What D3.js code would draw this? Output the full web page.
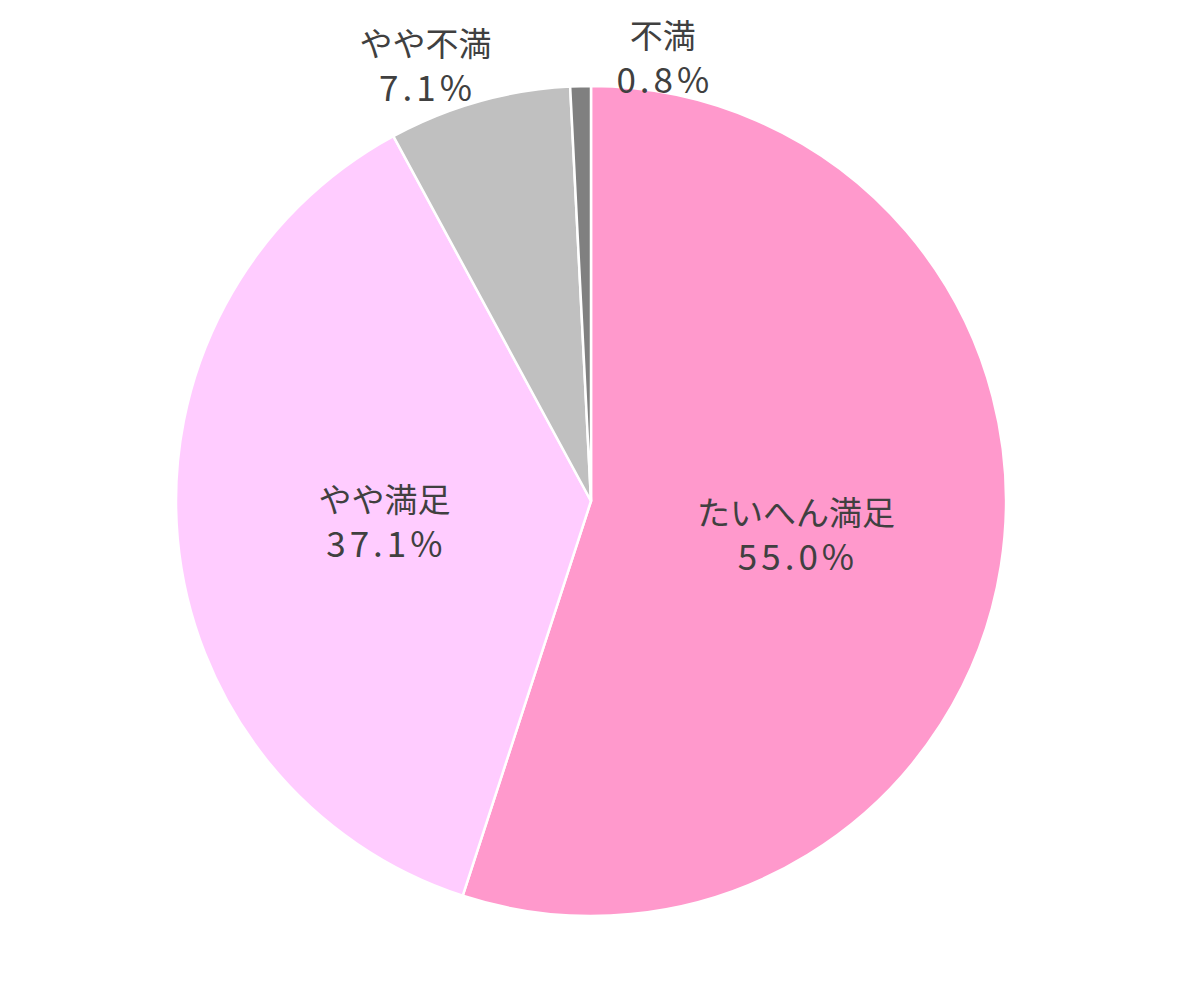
<!DOCTYPE html>
<html><head><meta charset="utf-8">
<script src="https://cdn.jsdelivr.net/npm/d3@7"></script>
<style>html,body{margin:0;padding:0;background:#fff;}svg{display:block;}</style>
</head><body>
<svg id="chart" width="1182" height="1005"></svg>
<script>
const categories = ["たいへん満足", "やや満足", "やや不満", "不満"];
const values = [55.0, 37.1, 7.1, 0.8];
const colors = ["#FF99CC", "#FFCCFF", "#C0C0C0", "#808080"];
// label placement: inside (centroid) or outside (angle offset in degrees, radial distance beyond rim)
const labelMode = ["inside", "inside", "outside", "outside"];
const labelAngleShift = [0, 0, -5.1, 10.6];
const labelRadialGap = [0, 0, 52, 36];

const cx = 591, cy = 501, R = 415;
const svg = d3.select("#chart");
const g = svg.append("g").attr("transform", `translate(${cx},${cy})`);

const pie = d3.pie().value(d => d).sort(null);
const arcs = pie(values);
const arc = d3.arc().innerRadius(0).outerRadius(R);

g.selectAll("path").data(arcs).join("path")
  .attr("d", arc)
  .attr("fill", (d, i) => colors[i])
  .attr("stroke", "#fff")
  .attr("stroke-width", 2.5)
  .attr("stroke-linejoin", "round");

const fmt = d3.format(".1f");
const font = "'Noto Sans CJK JP', 'Noto Sans', sans-serif";
arcs.forEach((d, i) => {
  let x, y;
  if (labelMode[i] === "inside") {
    const c = arc.centroid(d);
    x = c[0]; y = c[1];
  } else {
    const a = (d.startAngle + d.endAngle) / 2 + labelAngleShift[i] * Math.PI / 180;
    const r = R + labelRadialGap[i];
    x = r * Math.sin(a); y = -r * Math.cos(a);
  }
  g.append("text")
    .attr("x", x).attr("y", y - 8)
    .attr("text-anchor", "middle")
    .attr("fill", "#404040")
    .attr("font-family", font)
    .attr("font-size", 33)
    .text(categories[i]);
  g.append("text")
    .attr("x", x + 2).attr("y", y + 37)
    .attr("text-anchor", "middle")
    .attr("fill", "#404040")
    .attr("font-family", font)
    .attr("font-size", 35)
    .attr("letter-spacing", 4)
    .text(fmt(values[i]) + "%");
});
</script>
</body></html>
